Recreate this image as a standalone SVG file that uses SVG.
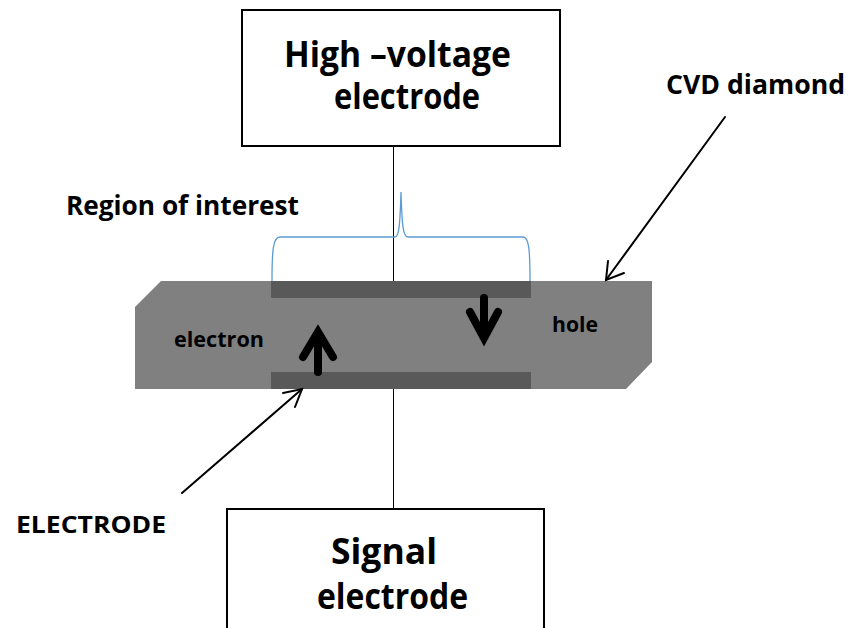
<svg xmlns="http://www.w3.org/2000/svg" width="851" height="628" viewBox="0 0 851 628">
<style>
.lbl{font-family:"Open Sans","Liberation Sans",sans-serif;font-weight:700;fill:#000}
.box{fill:#fff;stroke:#000;stroke-width:2}
.thin{fill:none;stroke:#000;stroke-width:2;stroke-linecap:round}
.thick{fill:none;stroke:#000;stroke-width:8;stroke-linecap:round;stroke-linejoin:miter}
</style>
<rect width="851" height="628" fill="#fff"/>
<g id="connectors">
  <line x1="393.5" y1="146" x2="393.5" y2="281" stroke="#000" stroke-width="1"/>
  <line x1="393.5" y1="389" x2="393.5" y2="509" stroke="#000" stroke-width="1"/>
</g>
<g id="hv-electrode">
  <rect class="box" x="242" y="10" width="318" height="136"/>
  <text class="lbl" x="284" y="67" font-size="36" textLength="227" lengthAdjust="spacingAndGlyphs">High –voltage</text>
  <text class="lbl" x="334" y="109" font-size="36" textLength="146" lengthAdjust="spacingAndGlyphs">electrode</text>
</g>
<g id="signal-electrode">
  <rect class="box" x="227" y="509" width="317" height="130"/>
  <text class="lbl" x="331" y="564" font-size="36" textLength="106" lengthAdjust="spacingAndGlyphs">Signal</text>
  <text class="lbl" x="317" y="609" font-size="36" textLength="151" lengthAdjust="spacingAndGlyphs">electrode</text>
</g>
<g id="diamond">
  <polygon points="161,281 652,281 652,362 626,389 135,389 135,307" fill="#808080"/>
  <rect x="271" y="281" width="260" height="17" fill="#595959"/>
  <rect x="271" y="372" width="260" height="17" fill="#595959"/>
  <text class="lbl" x="174" y="347" font-size="21" textLength="90" lengthAdjust="spacingAndGlyphs">electron</text>
  <text class="lbl" x="552" y="332" font-size="21" textLength="46" lengthAdjust="spacingAndGlyphs">hole</text>
</g>
<g id="electron-arrow">
  <line class="thick" x1="318" y1="372" x2="318" y2="334" stroke-linecap="butt"/>
  <polyline class="thick" points="303,357 318,332 333,357"/>
</g>
<g id="hole-arrow">
  <line class="thick" x1="484" y1="298" x2="484" y2="336" stroke-linecap="butt"/>
  <polyline class="thick" points="470,312 484,338 498,312"/>
</g>
<g id="region-of-interest">
  <path d="M272,281 C272,250 273,237 280,237 L395,237 C399,237 400,225 401,192 C402,225 403,237 408,237 L523,237 C529,237 530,250 530,281" fill="none" stroke="#5B9BD5" stroke-width="1.3"/>
  <text class="lbl" x="66" y="215" font-size="26" textLength="233" lengthAdjust="spacingAndGlyphs">Region of interest</text>
</g>
<g id="cvd-label">
  <text class="lbl" x="666" y="94" font-size="26" textLength="179" lengthAdjust="spacingAndGlyphs">CVD diamond</text>
  <line class="thin" x1="725" y1="117" x2="606" y2="280"/>
  <polyline class="thin" points="608,261 606,280 624,273"/>
</g>
<g id="electrode-label">
  <text class="lbl" x="16" y="533" font-size="24" textLength="150" lengthAdjust="spacingAndGlyphs">ELECTRODE</text>
  <line class="thin" x1="182" y1="493" x2="302" y2="389"/>
  <polyline class="thin" points="283,393 302,389 295,407"/>
</g>
</svg>
